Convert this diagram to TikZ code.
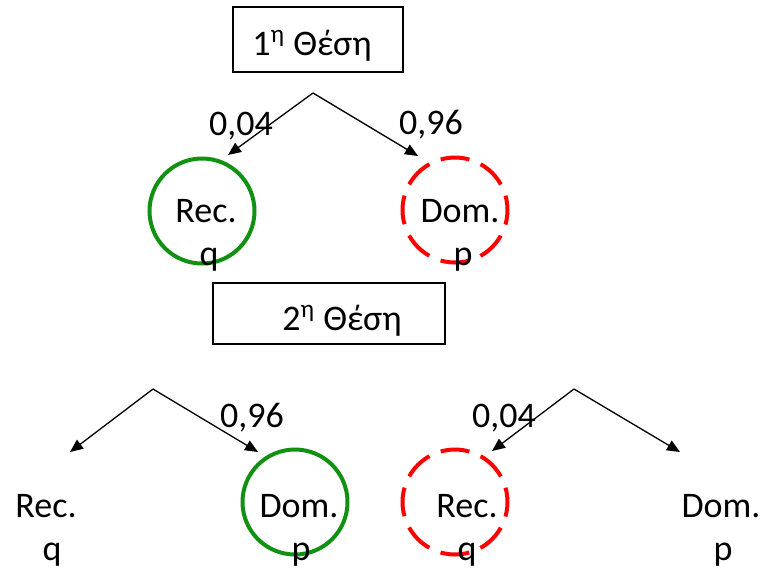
\documentclass[tikz,border=0pt]{standalone}
\usepackage{fontspec}
\setmainfont{Carlito}
\usetikzlibrary{arrows.meta}
\definecolor{ringgreen}{RGB}{17,145,17}
\definecolor{ringred}{RGB}{255,0,0}
\begin{document}
\begin{tikzpicture}[x=0.5pt,y=-0.5pt,
  font=\fontsize{18}{21.5}\selectfont,
  lbl/.style={inner sep=0pt, anchor=base},
  posbox/.style={draw, line width=0.75pt, inner sep=0pt},
  branch/.style={line width=0.65pt, -{Triangle[length=6.5pt,width=5.5pt]}},
  ring/.style={circle, inner sep=0pt, minimum size=52.5pt, line width=2pt},
  solidring/.style={ring, draw=ringgreen},
  dashring/.style={ring, draw=ringred, dash pattern=on 14.5pt off 6.1pt, dash phase=7.25pt}]
\useasboundingbox (0,0) rectangle (765,569);

% position boxes
\node[posbox, minimum width=85pt, minimum height=32.5pt] (box1) at (318,39.5) {};
\node[lbl, anchor=base west] (t1) at (252,55) {1\textsuperscript{η} Θέση};
\node[posbox, minimum width=116pt, minimum height=30.5pt] (box2) at (329,313.5) {};
\node[lbl, anchor=base west] (t2) at (282,330) {2\textsuperscript{η} Θέση};

% branch points and arrow ends
\coordinate (apex1) at (313,93);
\coordinate (end1l) at (228,155);
\coordinate (end1r) at (418,156);
\coordinate (apex2) at (153,389);
\coordinate (end2l) at (70,452);
\coordinate (end2r) at (258,452);
\coordinate (apex3) at (574,389);
\coordinate (end3l) at (492,451);
\coordinate (end3r) at (680,452);

\draw[branch] (apex1) -- (end1l);
\draw[branch] (apex1) -- (end1r);
\draw[branch] (apex2) -- (end2l);
\draw[branch] (apex2) -- (end2r);
\draw[branch] (apex3) -- (end3l);
\draw[branch] (apex3) -- (end3r);

% probabilities
\node[lbl] (pa) at (241,135) {0,04};
\node[lbl] (pb) at (431,134) {0,96};
\node[lbl] (pc) at (252,427) {0,96};
\node[lbl] (pd) at (504,427) {0,04};

% rings
\node[solidring] (c1) at (202,211) {};
\node[dashring]  (c2) at (455,210) {};
\node[solidring] (c3) at (295,502) {};
\node[dashring]  (c4) at (455,502) {};

% allele labels, first position (second line cut by its frame)
\node[lbl] (rec1) at (206,222) {Rec.};
\node[lbl] (dom1) at (460,222) {Dom.};
\begin{scope}
  \clip (0,0) rectangle (765,272);
  \node[lbl] (q1) at (209,265) {q};
  \node[lbl] (p1) at (463,265) {p};
\end{scope}

% allele labels, second position
\node[lbl] (rec2) at (46,517) {Rec.};
\node[lbl] (q2) at (52,560) {q};
\node[lbl] (dom2) at (299,517) {Dom.};
\node[lbl] (p2) at (301,560) {p};
\node[lbl] (rec3) at (467,517) {Rec.};
\node[lbl] (q3) at (467,560) {q};
\node[lbl] (dom3) at (721,517) {Dom.};
\node[lbl] (p3) at (723,560) {p};
\end{tikzpicture}
\end{document}
